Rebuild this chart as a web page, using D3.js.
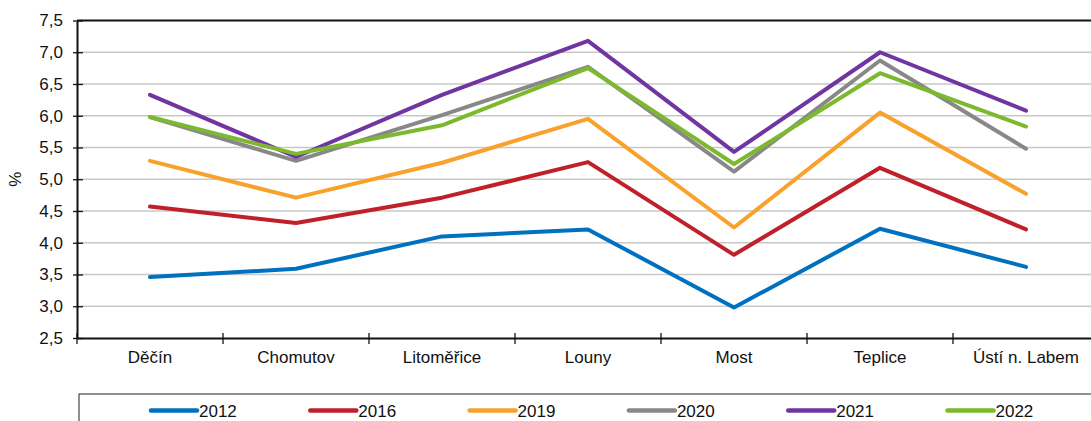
<!DOCTYPE html>
<html><head><meta charset="utf-8">
<script src="https://cdn.jsdelivr.net/npm/d3@7"></script>
<style>body{margin:0;background:#fff;overflow:hidden}svg{display:block;font-family:"Liberation Sans",Arial,sans-serif}</style>
</head><body>
<script>
const categories = ["Děčín","Chomutov","Litoměřice","Louny","Most","Teplice","Ústí n. Labem"];
const years = ["2012","2016","2019","2020","2021","2022"];
const v2012 = [3.46,3.59,4.10,4.21,2.98,4.22,3.62];
const v2016 = [4.57,4.31,4.71,5.27,3.81,5.18,4.21];
const v2019 = [5.29,4.71,5.26,5.95,4.24,6.05,4.77];
const v2020 = [5.98,5.29,6.01,6.77,5.12,6.87,5.48];
const v2021 = [6.33,5.35,6.33,7.18,5.43,7.00,6.08];
const v2022 = [5.98,5.40,5.85,6.75,5.24,6.67,5.83];
const yTicks = [2.5,3.0,3.5,4.0,4.5,5.0,5.5,6.0,6.5,7.0,7.5];
const series = [v2012,v2016,v2019,v2020,v2021,v2022];
const colors = ["#0070C0","#C0202A","#F8A22C","#888888","#7135A1","#7CB92D"];

(function(){
const W=1091,H=421;
const FS=17;
const svg=d3.select("body").append("svg").attr("width",W).attr("height",H);
const mLeft=77, mTop=20.5, mBottom=338, band=146;
const x=d3.scaleBand().domain(categories).range([mLeft,mLeft+band*categories.length]).padding(0);
const y=d3.scaleLinear().domain([2.5,7.5]).range([mBottom,mTop]);
const fmt=d=>d3.format(".1f")(d).replace(".",",");

// gridlines
svg.append("g").selectAll("line").data(yTicks.slice(1,-1)).join("line")
  .attr("x1",mLeft).attr("x2",mLeft+band*7).attr("y1",d=>y(d)).attr("y2",d=>y(d))
  .attr("stroke","#c8c8c8").attr("stroke-width",1.3);
// top border
svg.append("line").attr("x1",mLeft).attr("x2",mLeft+band*7).attr("y1",y(7.5)).attr("y2",y(7.5)).attr("stroke","#111").attr("stroke-width",2);

// y axis
const ya=svg.append("g").attr("transform",`translate(${mLeft},0)`)
  .call(d3.axisLeft(y).tickValues(yTicks).tickFormat(fmt).tickSizeInner(5).tickSizeOuter(0).tickPadding(9));
ya.select(".domain").attr("stroke","#111").attr("stroke-width",2);
ya.selectAll(".tick line").attr("stroke","#111").attr("stroke-width",1.3).attr("x2",6).attr("x1",-4);
ya.selectAll("text").attr("font-size",FS).attr("fill","#111").attr("font-family","Liberation Sans, Arial, sans-serif");

// x axis
const xa=svg.append("g").attr("transform",`translate(0,${mBottom})`)
  .call(d3.axisBottom(x).tickSize(0).tickPadding(13));
xa.select(".domain").attr("stroke","#111").attr("stroke-width",2);
xa.selectAll("text").attr("font-size",FS).attr("fill","#111").attr("font-family","Liberation Sans, Arial, sans-serif").attr("dy","0.71em");
svg.append("g").selectAll("line").data(d3.range(categories.length+1)).join("line")
  .attr("x1",i=>mLeft+i*band).attr("x2",i=>mLeft+i*band).attr("y1",mBottom-5).attr("y2",mBottom+6)
  .attr("stroke","#111").attr("stroke-width",1.3);

// y label
svg.append("text").attr("transform",`translate(21,${(mTop+mBottom)/2}) rotate(-90)`).attr("text-anchor","middle")
  .attr("font-size",FS).attr("fill","#111").text("%");

// lines
const line=d3.line().x((d,i)=>x(categories[i])+band/2).y(d=>y(d));
svg.append("g").selectAll("path").data(series).join("path")
  .attr("d",line).attr("fill","none").attr("stroke",(d,i)=>colors[i]).attr("stroke-width",4)
  .attr("stroke-linejoin","round").attr("stroke-linecap","round");

// legend
svg.append("rect").attr("x",79).attr("y",394).attr("width",1100).attr("height",60).attr("fill","none").attr("stroke","#222").attr("stroke-width",1);
const lg=svg.append("g").selectAll("g").data(years).join("g").attr("transform",(d,i)=>`translate(${151+i*159.3},410.5)`);
lg.append("line").attr("x1",0).attr("x2",46).attr("stroke",(d,i)=>colors[i]).attr("stroke-width",4.5).attr("stroke-linecap","round");
lg.append("text").attr("x",48).attr("dy","0.36em").attr("font-size",FS).attr("fill","#111").text(d=>d);
})();
</script>
</body></html>
